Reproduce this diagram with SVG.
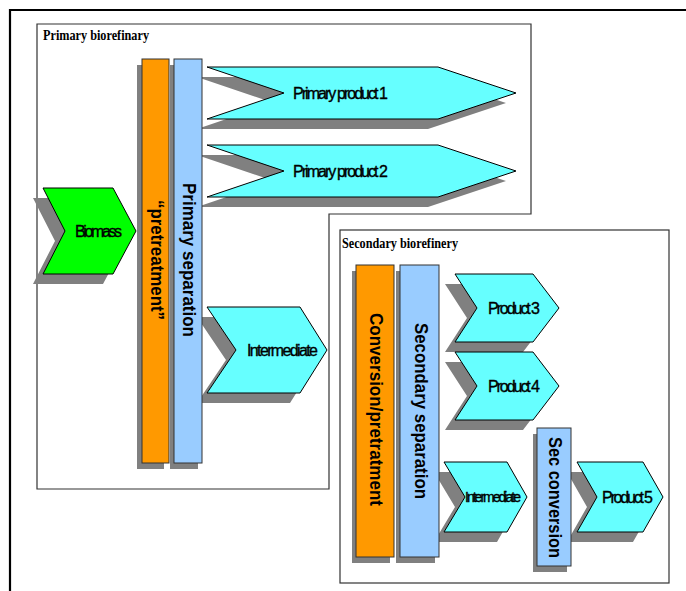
<svg xmlns="http://www.w3.org/2000/svg" width="686" height="591" viewBox="0 0 686 591">
<defs>
<style>
.frame{fill:none;stroke:#000;stroke-width:2.2}
.box{fill:#fff;stroke:#333;stroke-width:1.2}
.shadow{fill:#808080;stroke:none}
.chev{fill:#66FFFF;stroke:#000;stroke-width:1}
.bio{fill:#00FF00;stroke:#000;stroke-width:1}
.orange{fill:#FF9900;stroke:#333;stroke-width:1}
.blue{fill:#99CCFF;stroke:#333;stroke-width:1}
.lbl{font-family:"Liberation Sans",Arial,sans-serif;font-size:16px;fill:#000;stroke:#000;stroke-width:0.35}
.bar{font-family:"Liberation Sans",Arial,sans-serif;font-size:19px;font-weight:bold;fill:#000}
.title{font-family:"Liberation Serif","Times New Roman",serif;font-size:14px;font-weight:bold;fill:#000}
</style>
</defs>
<rect width="686" height="591" fill="#fff"/>
<path class="frame" d="M10,591 V10 H686"/>
<g id="primary-biorefinery">
<path class="box" d="M37,24 H531 V214 H329 V489 H37 Z"/>
<text class="title" x="43" y="40" textLength="106" lengthAdjust="spacingAndGlyphs">Primary biorefinary</text>
</g>
<g id="secondary-biorefinery">
<rect class="box" x="340" y="230" width="329" height="353"/>
<text class="title" x="342" y="248" textLength="116" lengthAdjust="spacingAndGlyphs">Secondary biorefinery</text>
</g>
<g id="connectors"/>
<g id="biomass">
<path class="shadow" transform="translate(-10,10)" d="M43,188 H113 L136,231 L113,274 H43 L65,231 Z"/>
<path class="bio" d="M43,188 H113 L136,231 L113,274 H43 L65,231 Z"/>
<text class="lbl" x="75" y="237" textLength="47">Biomass</text>
</g>
<g id="primary-product-1">
<path class="shadow" transform="translate(-10,10)" d="M207,67 H438 L516,93 L438,119 H207 L284,93 Z"/>
<path class="chev" d="M207,67 H438 L516,93 L438,119 H207 L284,93 Z"/>
<text class="lbl" x="293" y="99" textLength="95">Primary product 1</text>
</g>
<g id="primary-product-2">
<path class="shadow" transform="translate(-10,10)" d="M207,145 H438 L516,171 L438,197 H207 L284,171 Z"/>
<path class="chev" d="M207,145 H438 L516,171 L438,197 H207 L284,171 Z"/>
<text class="lbl" x="293" y="177" textLength="95">Primary product 2</text>
</g>
<g id="intermediate-1">
<path class="shadow" transform="translate(-10,10)" d="M207,307 H300 L327,350 L300,393 H207 L236,350 Z"/>
<path class="chev" d="M207,307 H300 L327,350 L300,393 H207 L236,350 Z"/>
<text class="lbl" x="247" y="356" textLength="71">Intermediate</text>
</g>
<g id="product-3">
<path class="shadow" transform="translate(-10,10)" d="M455,274 H533 L559,308 L533,342 H455 L477,308 Z"/>
<path class="chev" d="M455,274 H533 L559,308 L533,342 H455 L477,308 Z"/>
<text class="lbl" x="488" y="314" textLength="52">Product 3</text>
</g>
<g id="product-4">
<path class="shadow" transform="translate(-10,10)" d="M455,352 H533 L559,386 L533,420 H455 L477,386 Z"/>
<path class="chev" d="M455,352 H533 L559,386 L533,420 H455 L477,386 Z"/>
<text class="lbl" x="488" y="392" textLength="52">Product 4</text>
</g>
<g id="intermediate-2">
<path class="shadow" transform="translate(-10,10)" d="M444,462 H507 L527,497 L507,532 H444 L465,497 Z"/>
<path class="chev" d="M444,462 H507 L527,497 L507,532 H444 L465,497 Z"/>
<text class="lbl" x="465" y="502" textLength="56" style="font-size:14px">Intermediate</text>
</g>
<g id="product-5">
<path class="shadow" transform="translate(-10,10)" d="M577,462 H643 L663,497 L643,532 H577 L597,497 Z"/>
<path class="chev" d="M577,462 H643 L663,497 L643,532 H577 L597,497 Z"/>
<text class="lbl" x="602" y="503" textLength="51">Product 5</text>
</g>
<g id="pretreatment">
<rect class="shadow" x="137" y="65" width="27" height="404"/>
<rect class="orange" x="142" y="59" width="27" height="404"/>
<text class="bar" transform="translate(150.5,260) rotate(90)" text-anchor="middle" textLength="120" lengthAdjust="spacingAndGlyphs">“pretreatment”</text>
</g>
<g id="primary-separation">
<rect class="shadow" x="170" y="65" width="28" height="404"/>
<rect class="blue" x="174" y="59" width="28" height="404"/>
<text class="bar" transform="translate(183,260) rotate(90)" text-anchor="middle" textLength="154" lengthAdjust="spacingAndGlyphs">Primary separation</text>
</g>
<g id="conversion-pretreatment">
<rect class="shadow" x="352" y="271" width="38" height="292"/>
<rect class="orange" x="356" y="265" width="38" height="292"/>
<text class="bar" transform="translate(370,409.5) rotate(90)" text-anchor="middle" textLength="193" lengthAdjust="spacingAndGlyphs">Conversion/pretratment</text>
</g>
<g id="secondary-separation">
<rect class="shadow" x="396" y="271" width="39" height="292"/>
<rect class="blue" x="400" y="265" width="39" height="292"/>
<text class="bar" transform="translate(415,411) rotate(90)" text-anchor="middle" textLength="176" lengthAdjust="spacingAndGlyphs">Secondary separation</text>
</g>
<g id="sec-conversion">
<rect class="shadow" x="533" y="434" width="34" height="138"/>
<rect class="blue" x="537" y="428" width="34" height="138"/>
<text class="bar" transform="translate(548.5,497.5) rotate(90)" text-anchor="middle" textLength="121" lengthAdjust="spacingAndGlyphs">Sec conversion</text>
</g>
</svg>
